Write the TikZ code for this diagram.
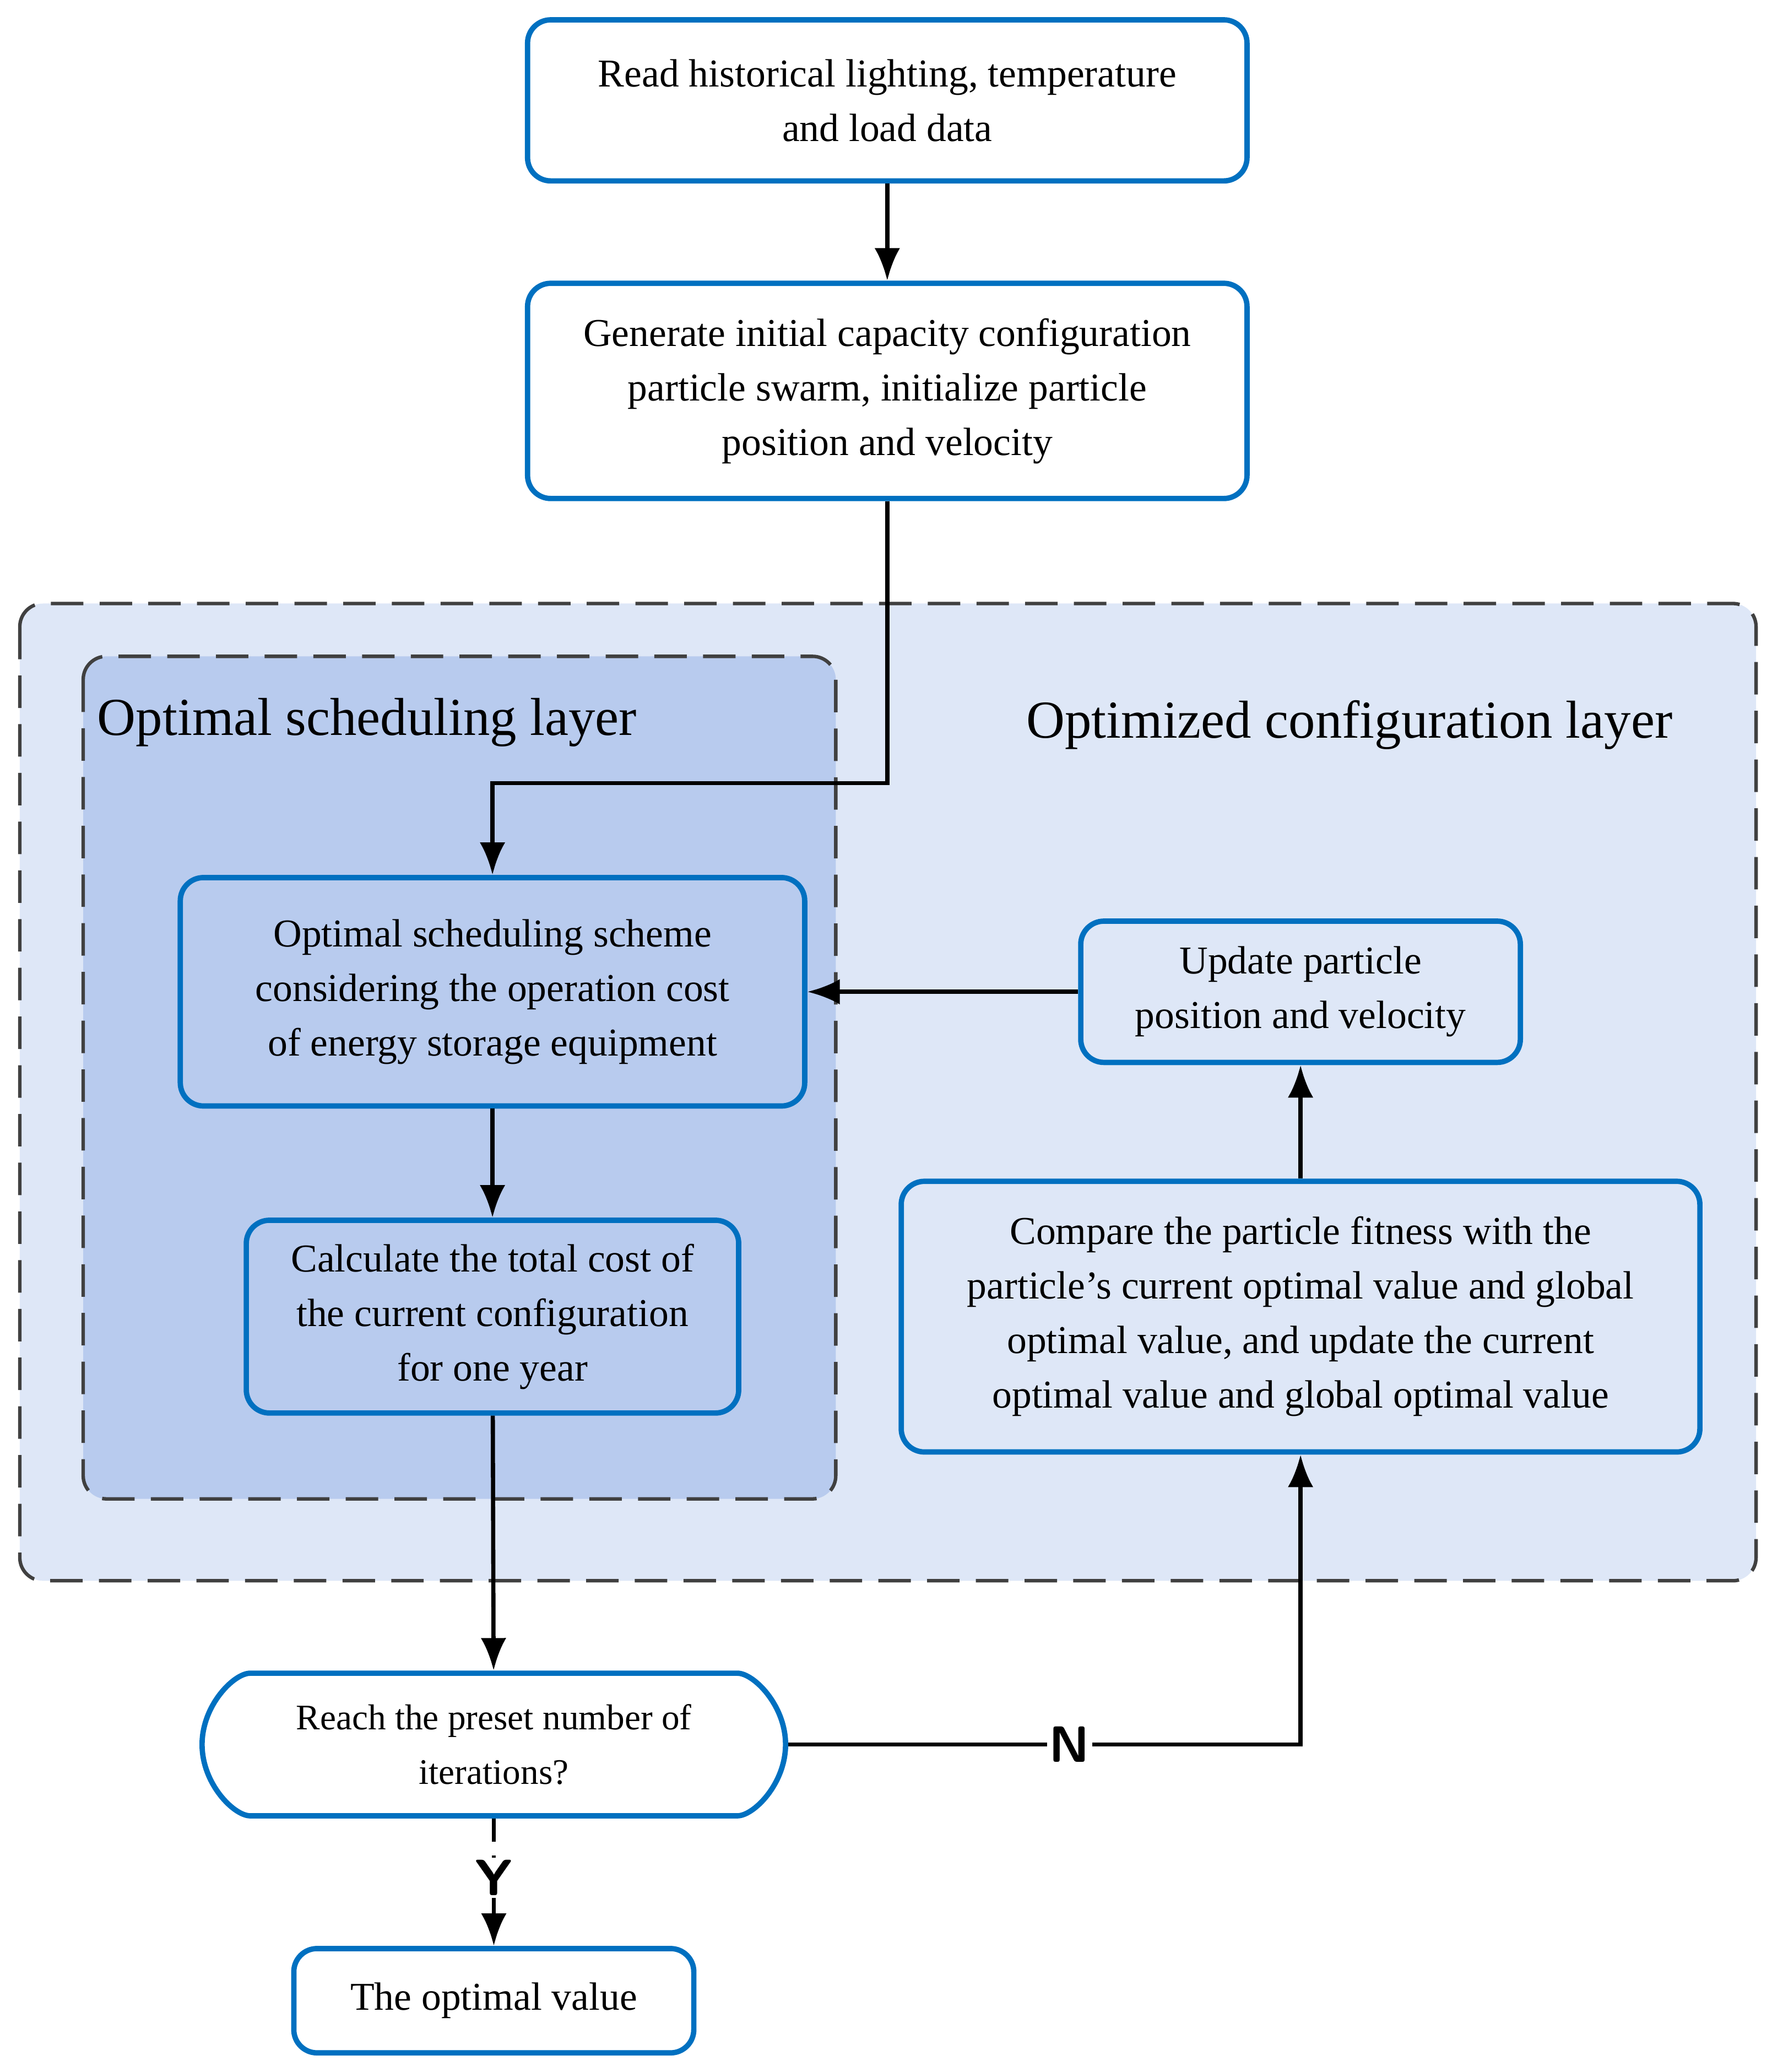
\documentclass[tikz,border=0pt]{standalone}
\usepackage{fontspec}
\setmainfont{Liberation Serif}
\usetikzlibrary{arrows.meta,shapes.misc}
\definecolor{bord}{RGB}{0,112,192}
\definecolor{outerfill}{RGB}{222,231,247}
\definecolor{innerfill}{RGB}{184,203,238}
\begin{document}
\begin{tikzpicture}[x=0.02cm,y=-0.02cm,
  box/.style={draw=bord,line width=2.3pt,rounded corners=10pt,align=center,inner sep=0pt,font=\fontsize{17}{23.5}\selectfont},
  arr/.style={line width=1.8pt,-{Latex[length=14pt,width=11pt]}},
  lay/.style={draw=black!75,line width=1.5pt,dash pattern=on 14pt off 7pt,rounded corners=10pt},
  lbl/.style={font=\sffamily\bfseries\fontsize{22}{22}\selectfont,fill=white,inner sep=1pt}]
\useasboundingbox (0,0) rectangle (1350,1569);
\draw[lay,fill=outerfill] (15,457) rectangle (1330,1197);
\draw[lay,fill=innerfill] (63,497) rectangle (633,1135);
\node[font=\fontsize{23}{23}\selectfont] (t1) at (278,547) {Optimal scheduling layer};
\node[font=\fontsize{23}{23}\selectfont] (t2) at (1022,549) {Optimized configuration layer};
\node[box,fill=white,minimum width=545\pgflinewidth] (b1) at (672,76) [minimum width=10.9cm,minimum height=2.44cm] {Read historical lighting, temperature\\and load data};
\node[box,fill=white,minimum width=10.9cm,minimum height=3.26cm] (b2) at (672,296) {Generate initial capacity configuration\\particle swarm, initialize particle\\position and velocity};
\node[box,fill=innerfill,minimum width=9.46cm,minimum height=3.46cm] (b3) at (373,751) {Optimal scheduling scheme\\considering the operation cost\\of energy storage equipment};
\node[box,fill=innerfill,minimum width=7.46cm,minimum height=2.92cm] (b4) at (373,997) {Calculate the total cost of\\the current configuration\\for one year};
\node[box,fill=outerfill,minimum width=6.66cm,minimum height=2.14cm] (b5) at (985,751) {Update particle\\position and velocity};
\node[box,fill=outerfill,minimum width=12.1cm,minimum height=4.1cm] (b6) at (985,997) {Compare the particle fitness with the\\particle's current optimal value and global\\optimal value, and update the current\\optimal value and global optimal value};
\node[box,rounded rectangle,fill=white,minimum width=8.84cm,minimum height=2.16cm,font=\fontsize{15.5}{23.5}\selectfont] (d) at (374,1321) {Reach the preset number of\\iterations?};
\node[box,fill=white,minimum width=6.06cm,minimum height=1.58cm] (f) at (374,1515) {The optimal value};
\coordinate (c1) at (672,593);
\coordinate (c2) at (373,593);
\coordinate (c3) at (985,1321);
\draw[arr] (b1) -- (b2);
\draw[arr] (b2.south) -- (c1) -- (c2) -- (b3.north);
\draw[arr] (b5.west) -- (b3.east);
\draw[arr] (b3) -- (b4);
\draw[arr] (b4) -- (d);
\draw[arr] (b6) -- (b5);
\draw[arr] (d.east) -- (c3) -- (b6.south);
\node[lbl] (n) at (810,1321) {N};
\draw[arr,dash pattern=on 10pt off 6pt] (d.south) -- (f.north);
\node[lbl] (y) at (374,1422) {Y};
\end{tikzpicture}
\end{document}
